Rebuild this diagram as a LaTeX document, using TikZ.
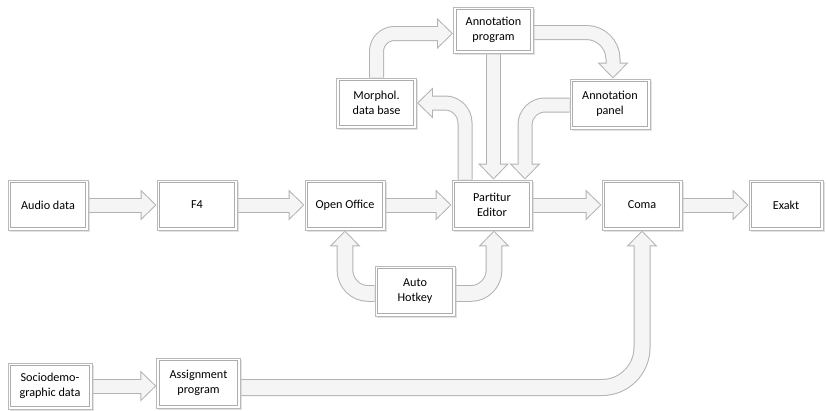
\documentclass[tikz,border=0pt]{standalone}
\usepackage{fontspec}
\setmainfont{Carlito}
\usetikzlibrary{arrows.meta,shadows,calc,backgrounds}

\tikzset{
  box/.style={draw=gray!55, line width=0.8pt, fill=white,
    minimum width=24mm, minimum height=15mm, inner sep=1pt, align=center,
    font=\fontsize{10.4}{12.8}\selectfont,
    drop shadow={shadow xshift=1.3pt, shadow yshift=-1.3pt, fill=gray!45, draw=none},
    path picture={\draw[gray!65, line width=0.8pt]
      ([shift={(2.4pt,-2.4pt)}]path picture bounding box.north west) rectangle
      ([shift={(-2.4pt,2.4pt)}]path picture bounding box.south east);}},
  fat/.style 2 args={draw=gray!60, line width=#1, -{Triangle[length=4.8mm, width=9mm]},
    postaction={draw=gray!8, line width=#2, shorten >=0.44mm,
      -{Triangle[length=4.05mm, width=7.6mm]}}},
}

\begin{document}
\begin{tikzpicture}[x=0.3mm,y=-0.3mm]
\useasboundingbox (0,0) rectangle (826,410);

% main row
\node[box] (audio) at (48,205) {Audio data};
\node[box] (f4) at (197,205) {F4};
\node[box] (oo) at (345,205) {Open Office};
\node[box] (pe) at (492,205) {Partitur\\Editor};
\node[box] (coma) at (642,205) {Coma};
\node[box, minimum width=22.2mm] (exakt) at (786,205) {Exakt};

% annotation part
\node[box, minimum height=13.8mm] (annprog) at (493.5,30) {Annotation\\program};
\node[box] (morph) at (376.5,103) {Morphol.\\data base};
\node[box] (annpanel) at (610,104) {Annotation\\panel};

% lower part
\node[box] (auto) at (415,291) {Auto\\Hotkey};
\node[box, minimum width=25.2mm, minimum height=13.8mm] (socio) at (50,386) {Sociodemo-\\graphic data};
\node[box, minimum width=25mm] (assign) at (198.5,383) {Assignment\\program};

\begin{scope}[on background layer]
  \draw[fat={4.5mm}{3.9mm}] (audio) -- (f4);
  \draw[fat={4.5mm}{3.9mm}] (f4) -- (oo);
  \draw[fat={4.5mm}{3.9mm}] (oo) -- (pe);
  \draw[fat={4.5mm}{3.9mm}] (pe) -- (coma);
  \draw[fat={4.5mm}{3.9mm}] (coma) -- (exakt);
  \draw[fat={4.5mm}{3.9mm}] (socio.east) -- (socio.east -| assign.west);

  %up and around
  \draw[fat={4.5mm}{3.9mm}, rounded corners=5.4mm] (morph.north) |- ($(annprog.west)+(0,3.5)$);
  \draw[fat={4.5mm}{3.9mm}, rounded corners=8mm] ($(annprog.east)+(0,2.5)$) -| ($(annpanel.north)+(3,0)$);
  \draw[fat={4.5mm}{3.9mm}] (annprog.south) -- (annprog.south |- pe.north);
  \draw[fat={4.5mm}{3.9mm}, rounded corners=6mm] ($(pe.north)+(-27,0)$) |- (morph.east);
  \draw[fat={4.5mm}{3.9mm}, rounded corners=6mm] ($(annpanel.west)+(0,1)$) -| ($(pe.north)+(33,0)$);

  %hotkey
  \draw[fat={5mm}{4.4mm}, rounded corners=7mm] ($(auto.west)+(0,2.5)$) -| (oo.south);
  \draw[fat={5mm}{4.4mm}, rounded corners=7mm] ($(auto.east)+(0,2.5)$) -| ($(pe.south)+(2,0)$);

  %assignment
  \draw[fat={5.1mm}{4.5mm}, rounded corners=12mm] ($(assign.east)+(0,4.5)$) -| (coma.south);
\end{scope}
\end{tikzpicture}
\end{document}
